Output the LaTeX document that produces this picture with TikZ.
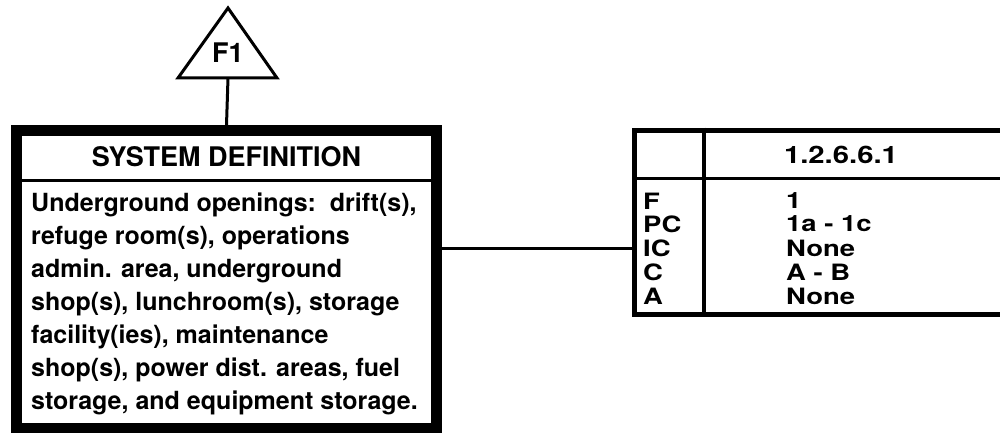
\documentclass[tikz,border=0pt]{standalone}
\usepackage{fontspec}
\setmainfont{TeX Gyre Heros}
\newfontfamily\widesans[FakeStretch=1.22]{TeX Gyre Heros}
\usetikzlibrary{positioning}

\begin{document}
\begin{tikzpicture}[x=1pt, y=-1pt,
  defbox/.style={draw, line width=11pt, minimum width=420pt,
                 minimum height=298pt, inner sep=0pt},
  tblbox/.style={draw, line width=5pt, minimum width=380pt,
                 minimum height=184pt, inner sep=0pt},
  bigtxt/.style={font=\fontsize{25}{33}\selectfont\bfseries, inner sep=0pt},
  rowtxt/.style={font=\widesans\fontsize{22.5}{24}\selectfont\bfseries, inner sep=0pt},
  link/.style={line width=3pt}
]
  \useasboundingbox (0,0) rectangle (1000,433);

  % function marker
  \node[font=\fontsize{27}{30}\selectfont\bfseries, inner sep=0pt] (f1) at (228,53) {F1};
  \coordinate (apex) at (228,8);
  \coordinate (tribase) at (228,78);
  \draw[link, line join=miter] (tribase -| 178,0) -- (apex) -- (tribase -| 277,0) -- cycle;

  % system definition box
  \node[defbox] (sys) at (226.5,279.5) {};
  \coordinate (hdrline) at (226.5,180);
  \draw[line width=3pt] (sys.west |- hdrline) -- (sys.east |- hdrline);
  \node[bigtxt, font=\fontsize{27}{30}\selectfont\bfseries] (hdr) at (226.5,157) {SYSTEM DEFINITION};
  \node[bigtxt, anchor=north west, align=left] (body) at (31,193)
    {Underground openings:\ \ drift(s),\\
     refuge room(s), operations\\
     admin. area, underground\\
     shop(s), lunchroom(s), storage\\
     facility(ies), maintenance\\
     shop(s), power dist. areas, fuel\\
     storage, and equipment storage.};
  \draw[link] (tribase) -- (sys.north);

  % index table
  \node[tblbox] (tbl) at (824.5,222) {};
  \coordinate (coldiv) at (704,178);
  \draw[line width=4pt] (coldiv |- tbl.north) -- (coldiv |- tbl.south);
  \draw[line width=3pt] (tbl.west |- coldiv) -- (tbl.east |- coldiv);
  \node[rowtxt, font=\widesans\fontsize{24}{30}\selectfont\bfseries] (idx) at (841,155) {1.2.6.6.1};

  \node[rowtxt, anchor=west] (labf)  at (643,201) {F};
  \node[rowtxt, anchor=west] (labpc) at (643,224) {PC};
  \node[rowtxt, anchor=west] (labic) at (643,248) {IC};
  \node[rowtxt, anchor=west] (labc)  at (643,272) {C};
  \node[rowtxt, anchor=west] (laba)  at (643,296) {A};

  \node[rowtxt, anchor=west] (valf)  at (786,201) {1};
  \node[rowtxt, anchor=west] (valpc) at (786,224) {1a - 1c};
  \node[rowtxt, anchor=west] (valic) at (786,248) {None};
  \node[rowtxt, anchor=west] (valc)  at (786,272) {A - B};
  \node[rowtxt, anchor=west] (vala)  at (786,296) {None};

  \draw[link] (sys.east |- labic) -- (tbl.west |- labic);
\end{tikzpicture}
\end{document}
